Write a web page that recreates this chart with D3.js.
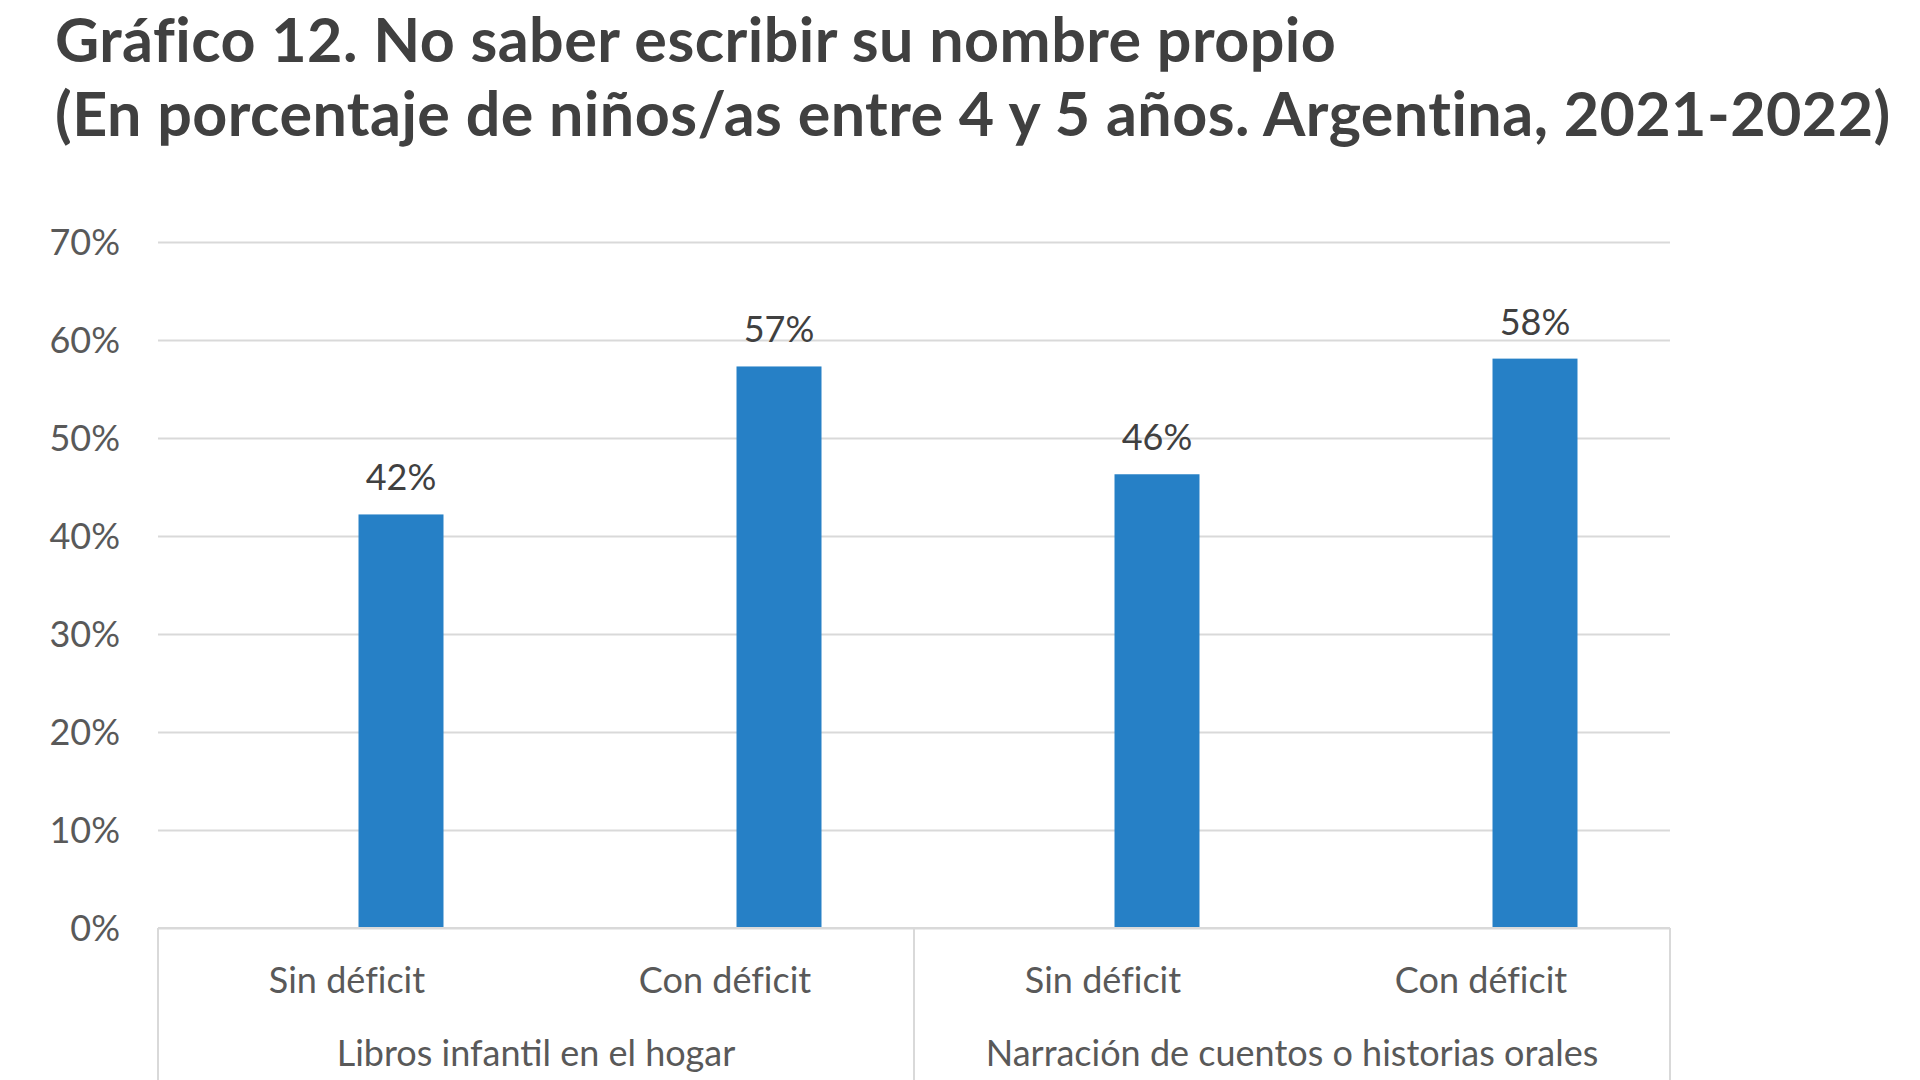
<!DOCTYPE html>
<html><head><meta charset="utf-8">
<script src="https://cdn.jsdelivr.net/npm/d3@7"></script>
<style>
body{margin:0;background:#fff}
svg{display:block}
text{font-family:Lato,"Open Sans",sans-serif}
</style>
</head><body>
<svg id="chart" width="1920" height="1080"></svg>
<script>
// ---- data ----
const titleLines = [
  "Gráfico 12. No saber escribir su nombre propio",
  "(En porcentaje de niños/as entre 4 y 5 años. Argentina, 2021-2022)"
];
const groupLabels = ["Libros infantil en el hogar", "Narración de cuentos o historias orales"];
const categories = ["Sin déficit", "Con déficit", "Sin déficit", "Con déficit"];
const categoryGroup = [0, 0, 1, 1];
const seriesNames = ["serie vacía", "Porcentaje"];
const values = [42.2, 57.3, 46.3, 58.1];
const valueLabels = ["42%", "57%", "46%", "58%"];
const yTicks = [0, 10, 20, 30, 40, 50, 60, 70];
const yTickLabels = ["0%", "10%", "20%", "30%", "40%", "50%", "60%", "70%"];

// ---- layout ----
const svg = d3.select("#chart");
const plotLeft = 158, plotRight = 1670, plotTop = 242, plotBottom = 928;
const gridColor = "#d9d9d9";
const axisText = "#595959";
const barColor = "#2680c6";

const x = d3.scaleBand().domain(d3.range(categories.length)).range([plotLeft, plotRight]).padding(0);
const x1 = d3.scaleBand().domain(seriesNames).range([-108, 108]).paddingInner(0.213).paddingOuter(0.1065);
const y = d3.scaleLinear().domain([0, 70]).range([plotBottom, plotTop]);

// title
svg.append("g").selectAll("text").data(titleLines).join("text")
  .attr("x", 55).attr("y", (d, i) => 62 + i * 74)
  .attr("font-size", 61).attr("font-weight", "bold").attr("fill", "#404040")
  .attr("letter-spacing", 0.45)
  .style("font-variant-ligatures", "none")
  .text(d => d);

// y axis with gridlines
const yAxis = svg.append("g").attr("transform", `translate(${plotLeft},0)`)
  .call(d3.axisLeft(y).tickValues(yTicks).tickSize(-(plotRight - plotLeft)).tickPadding(38)
    .tickFormat((d, i) => yTickLabels[i]));
yAxis.select(".domain").remove();
yAxis.selectAll(".tick line").attr("stroke", gridColor).attr("stroke-width", 2);
yAxis.selectAll(".tick text").attr("font-size", 36).attr("fill", axisText)
  .attr("font-family", "Lato, 'Open Sans', sans-serif").attr("dy", "0.35em");

// bars
const barX = i => x(i) + x.bandwidth() / 2 + x1(seriesNames[1]);
svg.append("g").selectAll("rect").data(values).join("rect")
  .attr("x", (d, i) => barX(i))
  .attr("width", x1.bandwidth())
  .attr("y", d => y(d))
  .attr("height", d => y(0) - y(d))
  .attr("fill", barColor);

// value labels
svg.append("g").selectAll("text").data(values).join("text")
  .attr("x", (d, i) => barX(i) + x1.bandwidth() / 2)
  .attr("y", d => y(d) - 24)
  .attr("text-anchor", "middle")
  .attr("font-size", 36).attr("fill", "#404040")
  .text((d, i) => valueLabels[i]);

// x axis (categories)
const xAxis = svg.append("g").attr("transform", `translate(0,${plotBottom})`)
  .call(d3.axisBottom(x).tickSize(0).tickFormat(i => categories[i]));
xAxis.select(".domain").remove();
xAxis.selectAll(".tick text").attr("y", 65).attr("dy", 0)
  .attr("font-size", 36).attr("fill", axisText)
  .attr("font-family", "Lato, 'Open Sans', sans-serif")
  .style("font-variant-ligatures", "none");

// axis line at 0
svg.append("line").attr("x1", plotLeft).attr("x2", plotRight).attr("y1", y(0)).attr("y2", y(0))
  .attr("stroke", gridColor).attr("stroke-width", 2);

// group dividers
const groupIdx = d3.range(groupLabels.length);
const groupStart = g => x(categoryGroup.indexOf(g));
const groupEnd = g => x(categoryGroup.lastIndexOf(g)) + x.bandwidth();
const dividers = [groupStart(0), ...groupIdx.map(groupEnd)];
svg.append("g").selectAll("line").data(dividers).join("line")
  .attr("x1", d => d).attr("x2", d => d).attr("y1", y(0)).attr("y2", 1080)
  .attr("stroke", gridColor).attr("stroke-width", 2);

// group labels
svg.append("g").selectAll("text").data(groupIdx).join("text")
  .attr("x", g => (groupStart(g) + groupEnd(g)) / 2)
  .attr("y", 1066)
  .attr("text-anchor", "middle")
  .attr("font-size", 36).attr("fill", axisText)
  .text(g => groupLabels[g]);
</script>
</body></html>
